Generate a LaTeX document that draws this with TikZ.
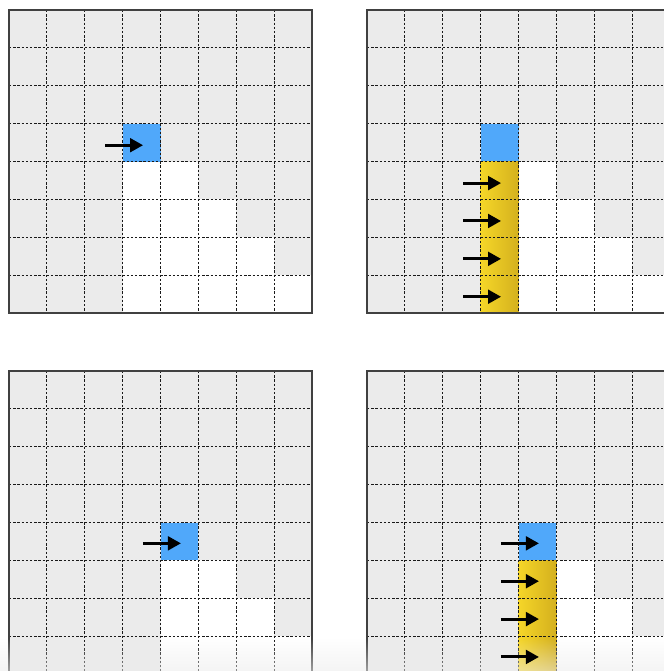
\documentclass[tikz,border=0pt]{standalone}
\usetikzlibrary{arrows.meta,fadings}
\definecolor{cellgray}{RGB}{235,235,235}
\definecolor{headblue}{RGB}{80,168,250}
\definecolor{yellowL}{RGB}{245,214,40}
\definecolor{yellowR}{RGB}{212,176,30}
\definecolor{fadegray}{RGB}{236,236,236}
\tikzset{
  cellbg/.style={fill=cellgray},
  freecell/.style={fill=white},
  headcell/.style={fill=headblue},
  runcell/.style={left color=yellowL,right color=yellowR},
  gridline/.style={draw=black!90,line width=0.6pt,dash pattern=on 1.2pt off 0.9pt},
  frame/.style={draw=black!75,line width=0.7pt},
  push/.style={-{Triangle[length=6.5pt,width=6.8pt]},line width=1.5pt,black},
  cellunits/.style={x=18.9375pt,y=-18.9375pt}
}
\begin{document}
\begin{tikzpicture}[x=0.5pt,y=-0.5pt]
\useasboundingbox (0,0) rectangle (664,671);
\clip (0,0) rectangle (664,671);
\fill[white] (0,0) rectangle (664,671);

% ---------- top left ----------
\begin{scope}[shift={(9,10)},cellunits]
  \fill[cellbg] (0,0) rectangle (8,8);
  \foreach \i/\j in {3/4,4/4, 3/5,4/5,5/5, 3/6,4/6,5/6,6/6, 3/7,4/7,5/7,6/7,7/7}
    \fill[freecell] (\i,\j) rectangle ++(1,1);
  \fill[headcell] (3,3) rectangle (4,4);
  \foreach \k in {1,...,7} {\draw[gridline] (\k,0) -- (\k,8); \draw[gridline] (0,\k) -- (8,\k);}
  \draw[frame] (0,0) rectangle (8,8);
  \coordinate (tls) at (2.535,3.57);
  \coordinate (tle) at (3.54,3.57);
\end{scope}

% ---------- top right ----------
\begin{scope}[shift={(367,10)},cellunits]
  \fill[cellbg] (0,0) rectangle (8,8);
  \foreach \i/\j in {4/4, 4/5,5/5, 4/6,5/6,6/6, 4/7,5/7,6/7,7/7}
    \fill[freecell] (\i,\j) rectangle ++(1,1);
  \fill[headcell] (3,3) rectangle (4,4);
  \shade[runcell] (3,4) rectangle (4,8);
  \foreach \k in {1,...,7} {\draw[gridline] (\k,0) -- (\k,8); \draw[gridline] (0,\k) -- (8,\k);}
  \draw[frame] (0,0) rectangle (8,8);
  \foreach \r in {4,...,7} {
    \coordinate (trs\r) at (2.535,\r+0.57);
    \coordinate (tre\r) at (3.54,\r+0.57);
  }
\end{scope}

% ---------- bottom left ----------
\begin{scope}[shift={(9,371)},cellunits]
  \fill[cellbg] (0,0) rectangle (8,8);
  \foreach \i/\j in {4/5,5/5, 4/6,5/6,6/6, 4/7,5/7,6/7,7/7}
    \fill[freecell] (\i,\j) rectangle ++(1,1);
  \fill[headcell] (4,4) rectangle (5,5);
  \foreach \k in {1,...,7} {\draw[gridline] (\k,0) -- (\k,8); \draw[gridline] (0,\k) -- (8,\k);}
  \draw[frame] (0,0) rectangle (8,8);
  \coordinate (bls) at (3.535,4.55);
  \coordinate (ble) at (4.54,4.55);
\end{scope}

% ---------- bottom right ----------
\begin{scope}[shift={(367,371)},cellunits]
  \fill[cellbg] (0,0) rectangle (8,8);
  \foreach \i/\j in {5/5, 5/6,6/6, 5/7,6/7,7/7}
    \fill[freecell] (\i,\j) rectangle ++(1,1);
  \fill[headcell] (4,4) rectangle (5,5);
  \shade[runcell] (4,5) rectangle (5,8);
  \foreach \k in {1,...,7} {\draw[gridline] (\k,0) -- (\k,8); \draw[gridline] (0,\k) -- (8,\k);}
  \draw[frame] (0,0) rectangle (8,8);
  \foreach \r in {4,...,7} {
    \coordinate (brs\r) at (3.535,\r+0.55);
    \coordinate (bre\r) at (4.54,\r+0.55);
  }
\end{scope}

% bottom fade of the screenshot
\fill[fadegray,opacity=0.55,path fading=north] (0,638) rectangle (664,671);

% arrows
\draw[push] (tls) -- (tle);
\draw[push] (bls) -- (ble);
\foreach \r in {4,...,7} {
  \draw[push] (trs\r) -- (tre\r);
  \draw[push] (brs\r) -- (bre\r);
}
\end{tikzpicture}
\end{document}
